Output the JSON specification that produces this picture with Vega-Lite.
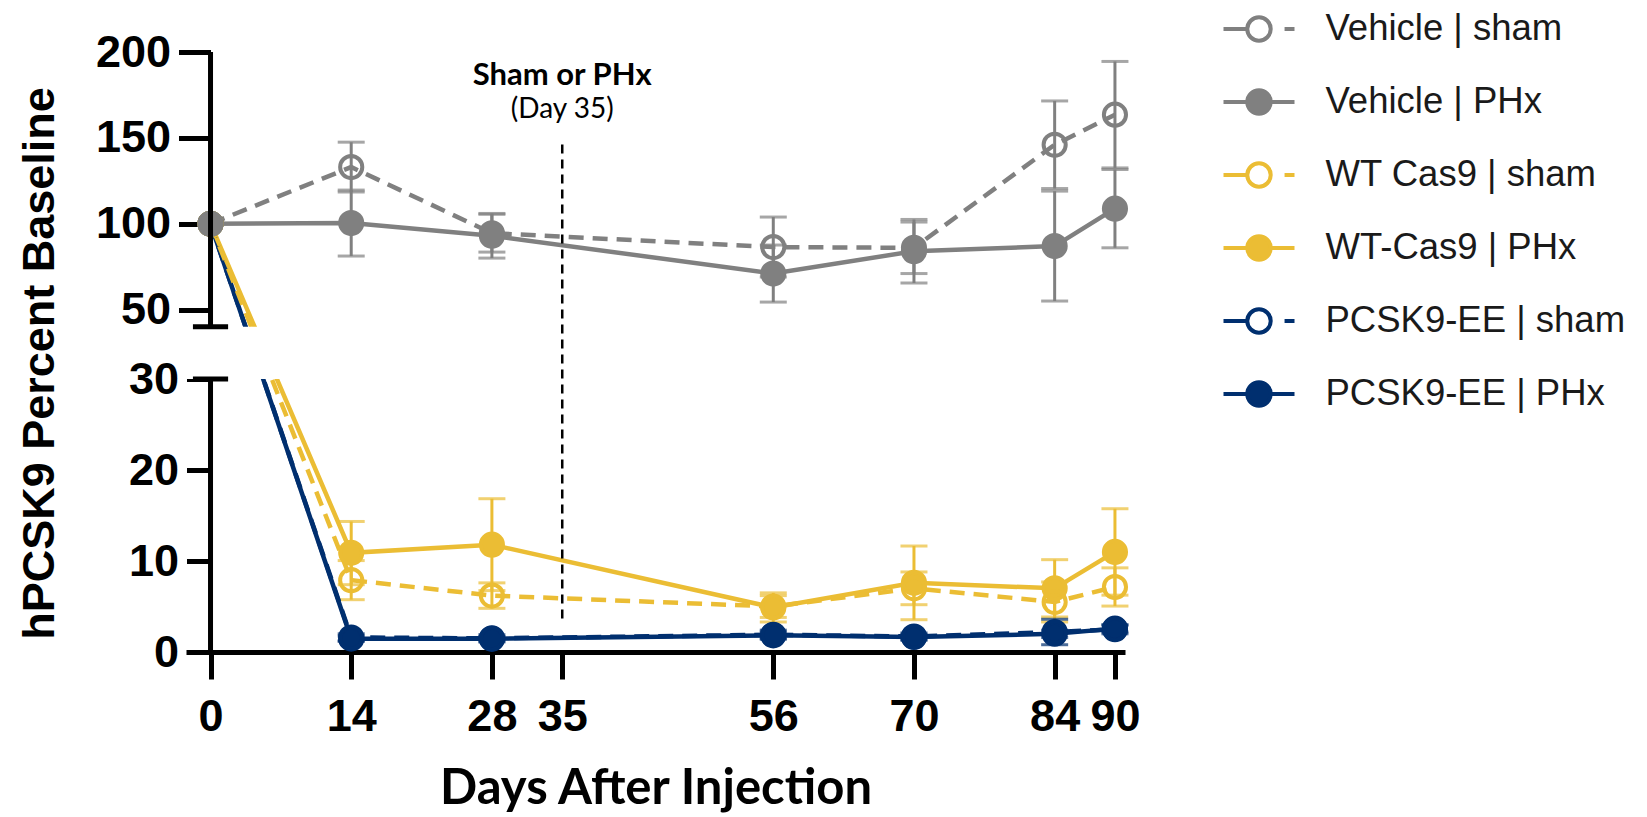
{
  "$schema": "https://vega.github.io/schema/vega-lite/v6.json",
  "autosize": "none",
  "width": 939,
  "height": 600,
  "padding": {"left": 186, "top": 52, "right": 522, "bottom": 165},
  "background": "white",
  "config": {"view": {"stroke": null}, "axis": {"grid": false}},
  "datasets": {
    "hpcsk9": [
      {"group": "PCSK9-EE | PHx", "day": 0, "mean": 100, "lo": null, "hi": null},
      {"group": "PCSK9-EE | PHx", "day": 14, "mean": 1.47, "lo": 1.2, "hi": 1.75},
      {"group": "PCSK9-EE | PHx", "day": 28, "mean": 1.45, "lo": 1.2, "hi": 1.7},
      {"group": "PCSK9-EE | PHx", "day": 56, "mean": 1.83, "lo": 1.5, "hi": 2.2},
      {"group": "PCSK9-EE | PHx", "day": 70, "mean": 1.65, "lo": 1.35, "hi": 1.95},
      {"group": "PCSK9-EE | PHx", "day": 84, "mean": 2.0, "lo": 1.6, "hi": 2.4},
      {"group": "PCSK9-EE | PHx", "day": 90, "mean": 2.57, "lo": 2.2, "hi": 2.95},
      {"group": "PCSK9-EE | sham", "day": 0, "mean": 100, "lo": null, "hi": null},
      {"group": "PCSK9-EE | sham", "day": 14, "mean": 1.6, "lo": 1.2, "hi": 2.0},
      {"group": "PCSK9-EE | sham", "day": 28, "mean": 1.5, "lo": 1.1, "hi": 1.9},
      {"group": "PCSK9-EE | sham", "day": 56, "mean": 1.9, "lo": 1.4, "hi": 2.4},
      {"group": "PCSK9-EE | sham", "day": 70, "mean": 1.7, "lo": 1.3, "hi": 2.1},
      {"group": "PCSK9-EE | sham", "day": 84, "mean": 2.2, "lo": 0.8, "hi": 3.6},
      {"group": "PCSK9-EE | sham", "day": 90, "mean": 2.5, "lo": 2.0, "hi": 3.0},
      {"group": "WT-Cas9 | PHx", "day": 0, "mean": 100, "lo": null, "hi": null},
      {"group": "WT-Cas9 | PHx", "day": 14, "mean": 10.9, "lo": 7.4, "hi": 14.35},
      {"group": "WT-Cas9 | PHx", "day": 28, "mean": 11.8, "lo": 6.75, "hi": 16.85},
      {"group": "WT-Cas9 | PHx", "day": 56, "mean": 4.9, "lo": 3.3, "hi": 6.5},
      {"group": "WT-Cas9 | PHx", "day": 70, "mean": 7.6, "lo": 3.55, "hi": 11.65},
      {"group": "WT-Cas9 | PHx", "day": 84, "mean": 7.0, "lo": 3.85, "hi": 10.15},
      {"group": "WT-Cas9 | PHx", "day": 90, "mean": 11.0, "lo": 6.25, "hi": 15.75},
      {"group": "WT Cas9 | sham", "day": 0, "mean": 100, "lo": null, "hi": null},
      {"group": "WT Cas9 | sham", "day": 14, "mean": 7.9, "lo": 5.75, "hi": 10.05},
      {"group": "WT Cas9 | sham", "day": 28, "mean": 6.2, "lo": 4.8, "hi": 7.6},
      {"group": "WT Cas9 | sham", "day": 56, "mean": 5.0, "lo": 3.8, "hi": 6.2},
      {"group": "WT Cas9 | sham", "day": 70, "mean": 7.0, "lo": 5.2, "hi": 8.8},
      {"group": "WT Cas9 | sham", "day": 84, "mean": 5.5, "lo": 3.3, "hi": 7.7},
      {"group": "WT Cas9 | sham", "day": 90, "mean": 7.15, "lo": 5.05, "hi": 9.25},
      {"group": "Vehicle | PHx", "day": 0, "mean": 100, "lo": null, "hi": null},
      {"group": "Vehicle | PHx", "day": 14, "mean": 100.4, "lo": 81.2, "hi": 119.6},
      {"group": "Vehicle | PHx", "day": 28, "mean": 93, "lo": 80, "hi": 106},
      {"group": "Vehicle | PHx", "day": 56, "mean": 71, "lo": 54.4, "hi": 87.6},
      {"group": "Vehicle | PHx", "day": 70, "mean": 84, "lo": 65.5, "hi": 102.5},
      {"group": "Vehicle | PHx", "day": 84, "mean": 87, "lo": 55, "hi": 119},
      {"group": "Vehicle | PHx", "day": 90, "mean": 108.8, "lo": 86, "hi": 131.6},
      {"group": "Vehicle | sham", "day": 0, "mean": 100, "lo": null, "hi": null},
      {"group": "Vehicle | sham", "day": 14, "mean": 133, "lo": 118.5, "hi": 147.5},
      {"group": "Vehicle | sham", "day": 28, "mean": 94.5, "lo": 83.5, "hi": 105.5},
      {"group": "Vehicle | sham", "day": 56, "mean": 86.4, "lo": 69, "hi": 103.9},
      {"group": "Vehicle | sham", "day": 70, "mean": 86, "lo": 71, "hi": 101},
      {"group": "Vehicle | sham", "day": 84, "mean": 146, "lo": 120.5, "hi": 171.5},
      {"group": "Vehicle | sham", "day": 90, "mean": 163.5, "lo": 132.5, "hi": 194.5}
    ],
    "one": [{}]
  },
  "layer": [
    {
      "data": {"name": "hpcsk9"},
      "encoding": {
        "x": {
          "field": "day", "type": "quantitative",
          "scale": {"domain": [-2.44, 91], "nice": false, "zero": false},
          "axis": {
            "values": [0, 14, 28, 35, 56, 70, 84, 90],
            "title": "Days After Injection",
            "domainColor": "black", "domainWidth": 5,
            "tickColor": "black", "tickWidth": 5, "tickSize": 27,
            "labelFont": "Liberation Sans", "labelFontWeight": "bold", "labelFontSize": 45,
            "labelColor": "black", "labelPadding": 15, "labelFlush": false, "labelOverlap": false,
            "titleFont": "Lato", "titleFontWeight": "bold", "titleFontSize": 49,
            "titleColor": "black", "titlePadding": 25
          }
        },
        "color": {
          "field": "group", "type": "nominal",
          "scale": {
            "domain": ["Vehicle | sham", "Vehicle | PHx", "WT Cas9 | sham", "WT-Cas9 | PHx", "PCSK9-EE | sham", "PCSK9-EE | PHx"],
            "range": ["#808080", "#808080", "#EBBD34", "#EBBD34", "#002F6F", "#002F6F"]
          },
          "legend": {
            "orient": "none", "legendX": 1035.5, "legendY": -60.5,
            "title": null, "padding": 0, "rowPadding": 15,
            "symbolSize": 5041, "symbolStrokeWidth": 4,
            "labelFont": "Liberation Sans", "labelFontSize": 36.5, "labelColor": "#1a1a1a",
            "labelOffset": 29, "labelLimit": 420,
            "encode": {
              "symbols": {
                "update": {
                  "shape": {"signal": "indexof(datum.value, 'sham') >= 0 ? 'M-1,0H-0.33M0.72,0H1M0.33,0A0.33,0.33 0 1,1 -0.33,0A0.33,0.33 0 1,1 0.33,0Z' : 'M-1,0H-0.33M0.33,0H1M0.33,0A0.33,0.33 0 1,1 -0.33,0A0.33,0.33 0 1,1 0.33,0Z'"},
                  "fill": {"signal": "indexof(datum.value, 'sham') >= 0 ? 'white' : indexof(datum.value, 'Vehicle') >= 0 ? '#808080' : indexof(datum.value, 'WT') >= 0 ? '#EBBD34' : '#002F6F'"},
                  "fillOpacity": {"signal": "indexof(datum.value, 'sham') >= 0 ? 0 : 1"},
                  "stroke": {"signal": "indexof(datum.value, 'Vehicle') >= 0 ? '#808080' : indexof(datum.value, 'WT') >= 0 ? '#EBBD34' : '#002F6F'"},
                  "strokeWidth": {"value": 4},
                  "size": {"value": 5041},
                  "opacity": {"value": 1}
                }
              }
            }
          }
        }
      },
      "layer": [
        {
          "transform": [{"filter": "datum.lo != null"}],
          "mark": {"type": "rule", "strokeWidth": 3},
          "encoding": {
            "y": {
              "field": "lo", "type": "quantitative", "title": "hPCSK9 Percent Baseline",
              "scale": {"domain": [0, 30, 40, 200], "range": [600, 327.1, 274.8, 0], "nice": false, "zero": false},
              "axis": {
                "values": [0, 10, 20, 30, 50, 100, 150, 200],
                "title": "hPCSK9 Percent Baseline",
                "domain": false, "offset": -24.5,
                "tickColor": "black", "tickWidth": 5,
                "tickSize": {"condition": {"test": "datum.value >= 50", "value": 32}, "value": 24},
                "labelFont": "Liberation Sans", "labelFontWeight": "bold", "labelFontSize": 45,
                "labelColor": "black", "labelPadding": 8, "labelFlush": false, "labelOverlap": false,
                "titleFont": "Liberation Sans", "titleFontWeight": "bold", "titleFontSize": 45,
                "titleColor": "black", "titlePadding": 33, "titleY": 311
              }
            },
            "y2": {"field": "hi"}
          }
        },
        {
          "transform": [{"filter": "datum.lo != null"}],
          "mark": {"type": "tick", "orient": "horizontal", "size": 27, "thickness": 3},
          "encoding": {
            "y": {
              "field": "lo", "type": "quantitative", "title": "hPCSK9 Percent Baseline",
              "scale": {"domain": [0, 30, 40, 200], "range": [600, 327.1, 274.8, 0], "nice": false, "zero": false},
              "axis": {"title": "hPCSK9 Percent Baseline"}
            }
          }
        },
        {
          "transform": [{"filter": "datum.hi != null"}],
          "mark": {"type": "tick", "orient": "horizontal", "size": 27, "thickness": 3},
          "encoding": {
            "y": {
              "field": "hi", "type": "quantitative", "title": "hPCSK9 Percent Baseline",
              "scale": {"domain": [0, 30, 40, 200], "range": [600, 327.1, 274.8, 0], "nice": false, "zero": false},
              "axis": {"title": "hPCSK9 Percent Baseline"}
            }
          }
        },
        {
          "transform": [{"filter": "indexof(datum.group, 'sham') < 0"}],
          "mark": {"type": "line", "strokeWidth": 4.5},
          "encoding": {
            "y": {
              "field": "mean", "type": "quantitative", "title": "hPCSK9 Percent Baseline",
              "scale": {"domain": [0, 30, 40, 200], "range": [600, 327.1, 274.8, 0], "nice": false, "zero": false},
              "axis": {"title": "hPCSK9 Percent Baseline"}
            }
          }
        },
        {
          "transform": [{"filter": "indexof(datum.group, 'sham') >= 0"}],
          "mark": {"type": "line", "strokeWidth": 4.5, "strokeDash": [15, 9]},
          "encoding": {
            "y": {
              "field": "mean", "type": "quantitative", "title": "hPCSK9 Percent Baseline",
              "scale": {"domain": [0, 30, 40, 200], "range": [600, 327.1, 274.8, 0], "nice": false, "zero": false},
              "axis": {"title": "hPCSK9 Percent Baseline"}
            }
          }
        },
        {
          "mark": {"type": "point", "shape": "circle", "size": 490, "strokeWidth": 4, "filled": false, "opacity": 1},
          "encoding": {
            "y": {
              "field": "mean", "type": "quantitative", "title": "hPCSK9 Percent Baseline",
              "scale": {"domain": [0, 30, 40, 200], "range": [600, 327.1, 274.8, 0], "nice": false, "zero": false},
              "axis": {"title": "hPCSK9 Percent Baseline"}
            },
            "fill": {
              "field": "group", "type": "nominal",
              "scale": {
                "domain": ["Vehicle | sham", "Vehicle | PHx", "WT Cas9 | sham", "WT-Cas9 | PHx", "PCSK9-EE | sham", "PCSK9-EE | PHx"],
                "range": ["transparent", "#808080", "transparent", "#EBBD34", "transparent", "#002F6F"]
              },
              "legend": null
            }
          }
        }
      ]
    },
    {
      "data": {"name": "one"},
      "mark": {"type": "rect", "color": "white"},
      "encoding": {
        "x": {"datum": -2.44, "type": "quantitative", "scale": {"domain": [-2.44, 91], "nice": false, "zero": false}, "axis": {"title": "Days After Injection"}},
        "x2": {"datum": 91},
        "y": {"datum": 30, "type": "quantitative", "scale": {"domain": [0, 30, 40, 200], "range": [600, 327.1, 274.8, 0], "nice": false, "zero": false}, "axis": {"title": "hPCSK9 Percent Baseline"}},
        "y2": {"datum": 40}
      }
    },
    {
      "data": {"name": "one"},
      "mark": {"type": "rule", "color": "black", "strokeWidth": 5},
      "encoding": {
        "x": {"datum": 0, "type": "quantitative", "scale": {"domain": [-2.44, 91], "nice": false, "zero": false}, "axis": {"title": "Days After Injection"}},
        "y": {"datum": 0, "type": "quantitative", "scale": {"domain": [0, 30, 40, 200], "range": [600, 327.1, 274.8, 0], "nice": false, "zero": false}, "axis": {"title": "hPCSK9 Percent Baseline"}},
        "y2": {"datum": 30}
      }
    },
    {
      "data": {"name": "one"},
      "mark": {"type": "rule", "color": "black", "strokeWidth": 5},
      "encoding": {
        "x": {"datum": 0, "type": "quantitative", "scale": {"domain": [-2.44, 91], "nice": false, "zero": false}, "axis": {"title": "Days After Injection"}},
        "y": {"datum": 40, "type": "quantitative", "scale": {"domain": [0, 30, 40, 200], "range": [600, 327.1, 274.8, 0], "nice": false, "zero": false}, "axis": {"title": "hPCSK9 Percent Baseline"}},
        "y2": {"datum": 200}
      }
    },
    {
      "data": {"name": "one"},
      "mark": {"type": "rule", "color": "black", "strokeWidth": 5},
      "encoding": {
        "x": {"datum": -1.75, "type": "quantitative", "scale": {"domain": [-2.44, 91], "nice": false, "zero": false}, "axis": {"title": "Days After Injection"}},
        "x2": {"datum": 1.75},
        "y": {"datum": 30, "type": "quantitative", "scale": {"domain": [0, 30, 40, 200], "range": [600, 327.1, 274.8, 0], "nice": false, "zero": false}, "axis": {"title": "hPCSK9 Percent Baseline"}}
      }
    },
    {
      "data": {"name": "one"},
      "mark": {"type": "rule", "color": "black", "strokeWidth": 5},
      "encoding": {
        "x": {"datum": -1.75, "type": "quantitative", "scale": {"domain": [-2.44, 91], "nice": false, "zero": false}, "axis": {"title": "Days After Injection"}},
        "x2": {"datum": 1.75},
        "y": {"datum": 40, "type": "quantitative", "scale": {"domain": [0, 30, 40, 200], "range": [600, 327.1, 274.8, 0], "nice": false, "zero": false}, "axis": {"title": "hPCSK9 Percent Baseline"}}
      }
    },
    {
      "data": {"name": "one"},
      "mark": {"type": "rule", "color": "black", "strokeWidth": 2.5, "strokeDash": [9, 6]},
      "encoding": {
        "x": {"datum": 35, "type": "quantitative", "scale": {"domain": [-2.44, 91], "nice": false, "zero": false}, "axis": {"title": "Days After Injection"}},
        "y": {"datum": 3.67, "type": "quantitative", "scale": {"domain": [0, 30, 40, 200], "range": [600, 327.1, 274.8, 0], "nice": false, "zero": false}, "axis": {"title": "hPCSK9 Percent Baseline"}},
        "y2": {"datum": 146.6}
      }
    },
    {
      "data": {"name": "one"},
      "mark": {"type": "text", "text": "Sham or PHx", "font": "Lato", "fontWeight": "bold", "fontSize": 31, "color": "black", "align": "center", "baseline": "alphabetic"},
      "encoding": {
        "x": {"datum": 35, "type": "quantitative", "scale": {"domain": [-2.44, 91], "nice": false, "zero": false}, "axis": {"title": "Days After Injection"}},
        "y": {"datum": 180.8, "type": "quantitative", "scale": {"domain": [0, 30, 40, 200], "range": [600, 327.1, 274.8, 0], "nice": false, "zero": false}, "axis": {"title": "hPCSK9 Percent Baseline"}}
      }
    },
    {
      "data": {"name": "one"},
      "mark": {"type": "text", "text": "(Day 35)", "font": "Lato", "fontWeight": "normal", "fontSize": 28, "color": "black", "align": "center", "baseline": "alphabetic"},
      "encoding": {
        "x": {"datum": 35, "type": "quantitative", "scale": {"domain": [-2.44, 91], "nice": false, "zero": false}, "axis": {"title": "Days After Injection"}},
        "y": {"datum": 161.6, "type": "quantitative", "scale": {"domain": [0, 30, 40, 200], "range": [600, 327.1, 274.8, 0], "nice": false, "zero": false}, "axis": {"title": "hPCSK9 Percent Baseline"}}
      }
    }
  ]
}
